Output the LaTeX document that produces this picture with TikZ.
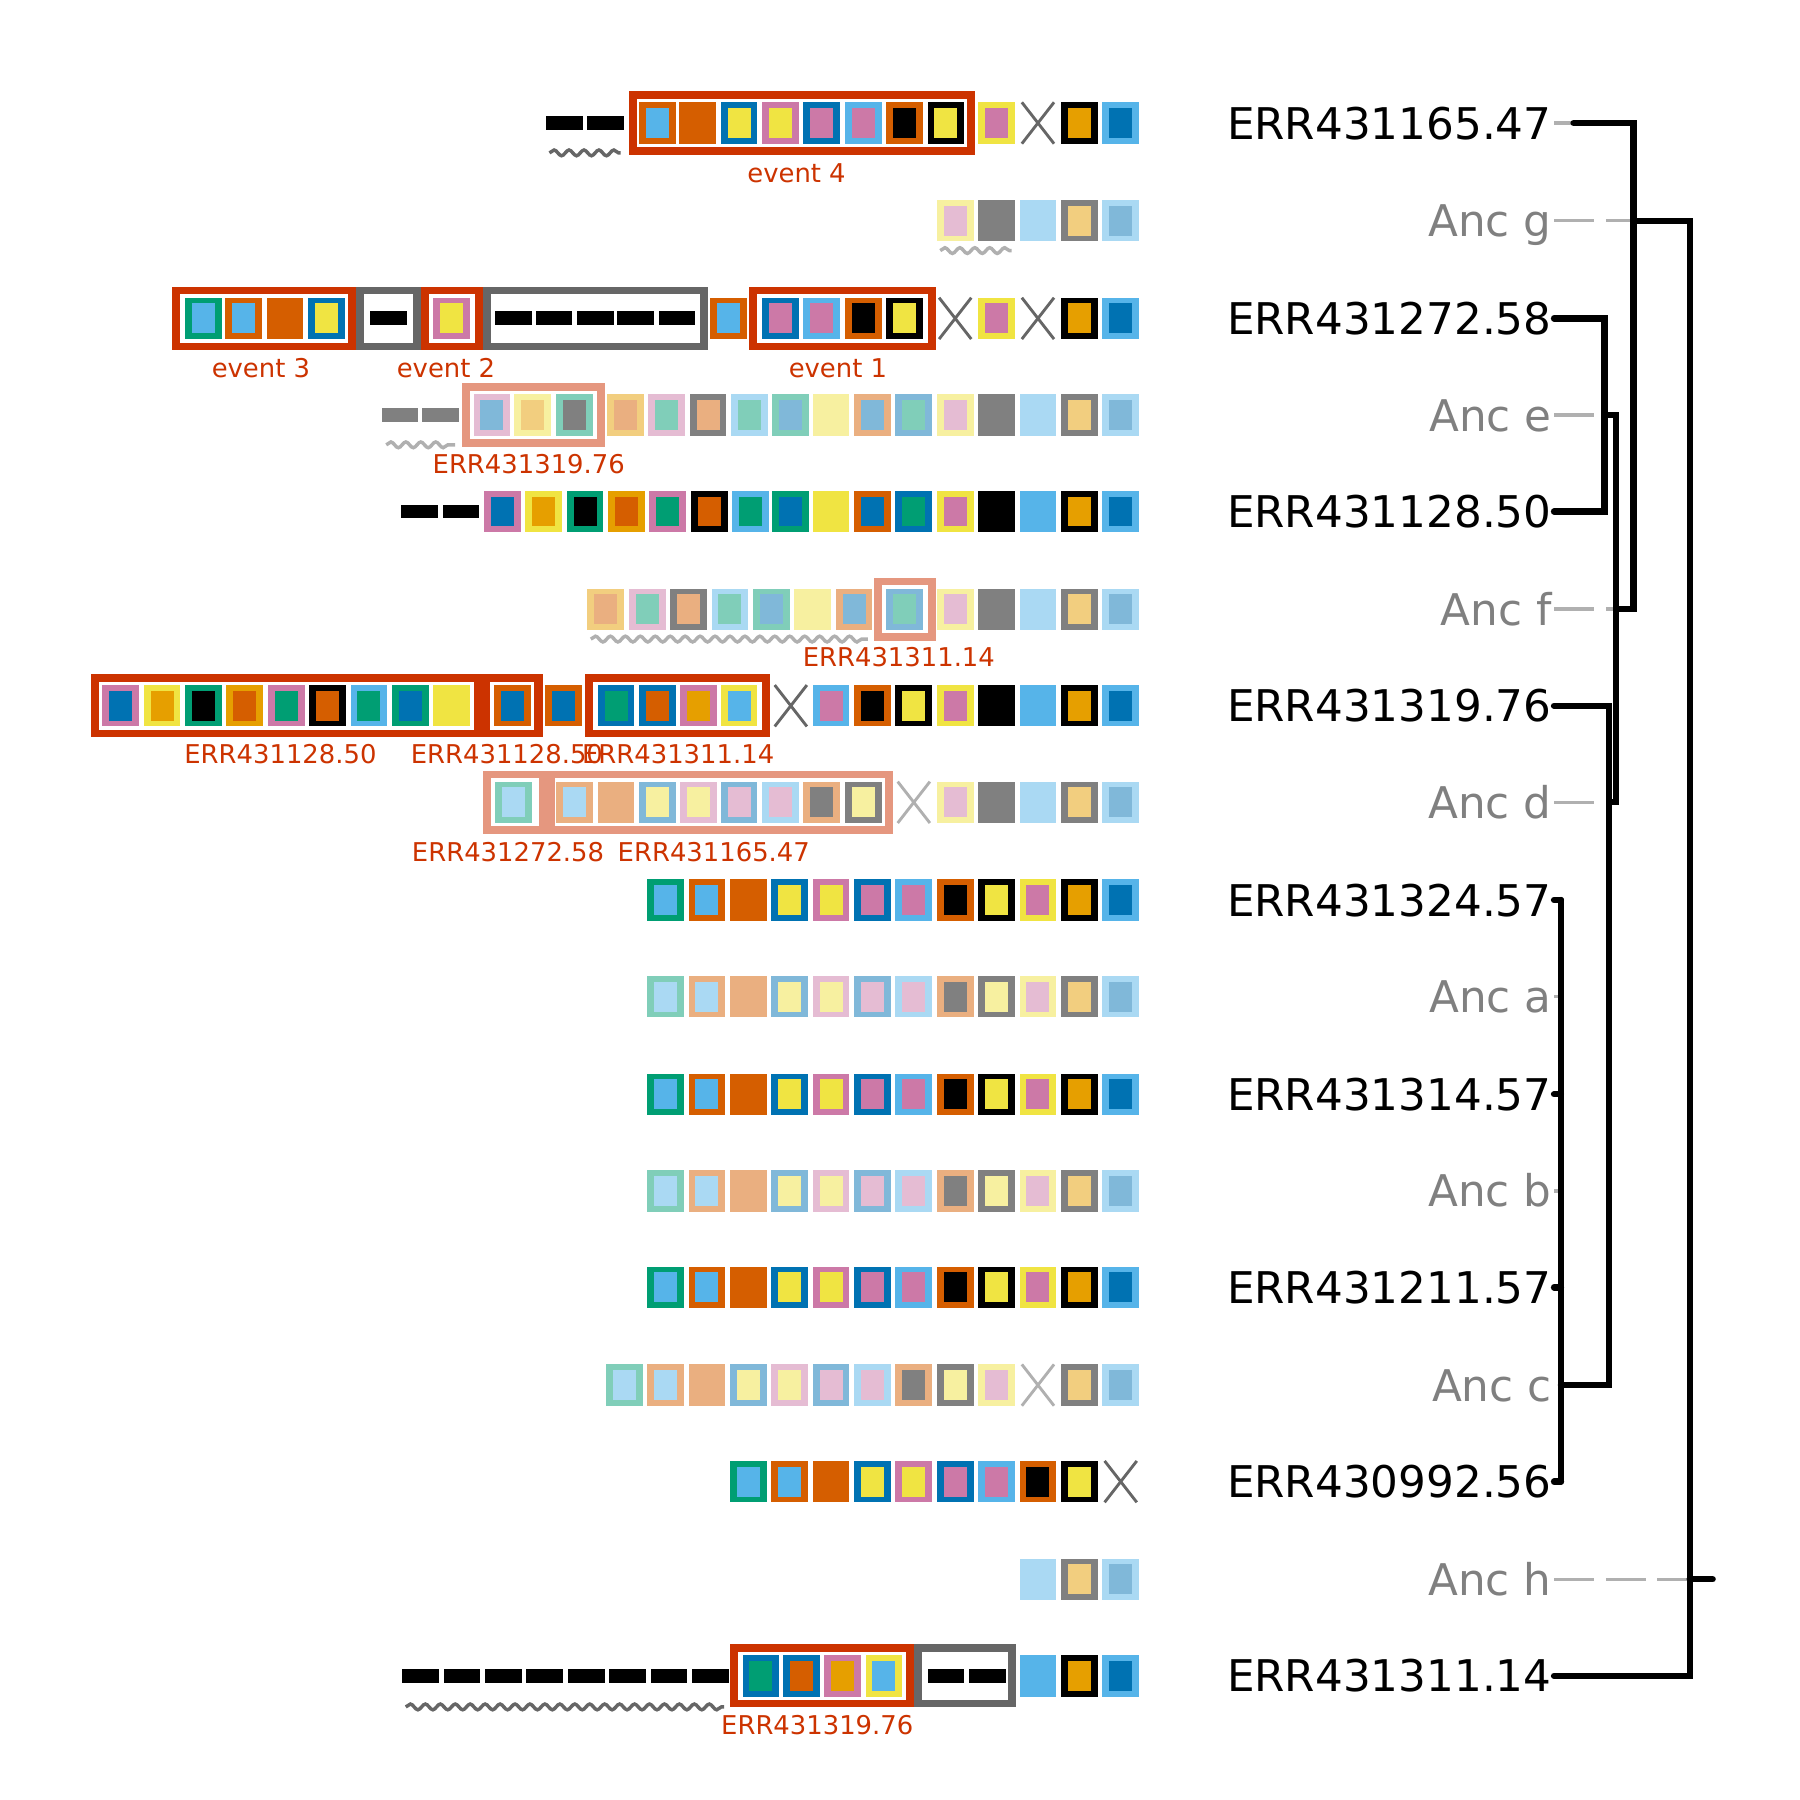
\documentclass[tikz,border=0pt]{standalone}
\usepackage{fontspec}
\setmainfont{DejaVu Sans}
\usetikzlibrary{decorations.pathmorphing}
\definecolor{O}{HTML}{E69F00}\definecolor{SB}{HTML}{56B4E9}\definecolor{G}{HTML}{009E73}
\definecolor{Y}{HTML}{F0E442}\definecolor{B}{HTML}{0072B2}\definecolor{V}{HTML}{D55E00}
\definecolor{P}{HTML}{CC79A7}\definecolor{K}{HTML}{000000}
\definecolor{lo}{HTML}{F2CE7F}\definecolor{lv}{HTML}{EAAF80}\definecolor{lsb}{HTML}{AAD9F3}
\definecolor{lg}{HTML}{80CEB9}\definecolor{ly}{HTML}{F7F0A0}\definecolor{lb}{HTML}{80B8D9}
\definecolor{lp}{HTML}{E5BCD3}\definecolor{gr}{HTML}{808080}
\definecolor{evred}{HTML}{CC3300}\definecolor{salmon}{HTML}{E5977F}\definecolor{bgray}{HTML}{666666}
\definecolor{leadgray}{HTML}{B0B0B0}\definecolor{ancgray}{HTML}{808080}
\newcommand\blk[4]{\fill[#3] ({#1-16},{#2-18}) rectangle ({#1+16},{#2+18});\fill[#4] ({#1-10},{#2-13}) rectangle ({#1+10},{#2+13});}
\newcommand\sblk[3]{\fill[#3] ({#1-16},{#2-18}) rectangle ({#1+16},{#2+18});}
\newcommand\dsh[3]{\fill[#3] ({#1-16},{#2-6}) rectangle ({#1+16},{#2+6});}
\newcommand\crs[3]{\draw[#3,line width=2.5] ({#1-14},{#2-18}) -- ({#1+14},{#2+18}) ({#1-14},{#2+18}) -- ({#1+14},{#2-18});}
\newcommand\evb[4]{\fill[#4] (#1,{#3-27.5}) rectangle (#2,{#3+27.5});\fill[white] ({#1+7},{#3-21}) rectangle ({#2-7},{#3+21});}
\newcommand\wav[4]{\draw[#4,line width=3,decorate,decoration={snake,amplitude=2.5,segment length=13}] (#1,#3) -- (#2,#3);}
\begin{document}
\begin{tikzpicture}[x=1pt,y=-1pt,
  evlab/.style={text=evred,font=\fontsize{22.5}{24}\selectfont,inner sep=0},
  leaf/.style={anchor=base east,font=\fontsize{38}{40}\selectfont,inner sep=0},
  anc/.style={leaf,text=ancgray},
  br/.style={line width=5.5,line cap=round},
  lead/.style={leadgray,line width=3},
  leadd/.style={lead,dash pattern=on 35 off 10}]
\useasboundingbox (0,0) rectangle (1566,1566);
% row 0
\dsh{491}{107}{K}\dsh{527}{107}{K}\wav{478}{540}{133}{bgray}
\evb{547}{848}{107}{evred}
\blk{572}{107}{V}{SB}\sblk{607}{107}{V}\blk{643}{107}{B}{Y}\blk{679}{107}{P}{Y}
\blk{715}{107}{B}{P}\blk{751}{107}{SB}{P}\blk{787}{107}{V}{K}\blk{823}{107}{K}{Y}
\blk{867}{107}{Y}{P}\crs{903}{107}{bgray}\blk{939}{107}{K}{O}\blk{975}{107}{SB}{B}
\node[evlab] (e4) at (693,151) {event 4};
% row 1
\blk{831}{192}{ly}{lp}\sblk{867}{192}{gr}\sblk{903}{192}{lsb}\blk{939}{192}{gr}{lo}\blk{975}{192}{lsb}{lb}
\wav{818}{880}{218}{leadgray}
% row 2
\evb{150}{310}{277}{evred}
\blk{177}{277}{G}{SB}\blk{212}{277}{V}{SB}\sblk{248}{277}{V}\blk{284}{277}{B}{Y}
\evb{310}{366}{277}{bgray}\dsh{338}{277}{K}
\evb{366}{420}{277}{evred}\blk{393}{277}{P}{Y}
\evb{420}{616}{277}{bgray}
\foreach \x in {447,482,518,553,589}{\dsh{\x}{277}{K}}
\blk{634}{277}{V}{SB}
\evb{652}{814}{277}{evred}
\blk{679}{277}{B}{P}\blk{715}{277}{SB}{P}\blk{751}{277}{V}{K}\blk{787}{277}{K}{Y}
\crs{831}{277}{bgray}\blk{867}{277}{Y}{P}\crs{903}{277}{bgray}\blk{939}{277}{K}{O}\blk{975}{277}{SB}{B}
\node[evlab] (e3) at (227,320) {event 3};
\node[evlab] (e2) at (388,320) {event 2};
\node[evlab] (e1) at (729,320) {event 1};
% row 3
\dsh{348}{361}{gr}\dsh{383}{361}{gr}\wav{336}{396}{387}{leadgray}
\evb{402}{526}{361}{salmon}
\blk{428}{361}{lp}{lb}\blk{463}{361}{ly}{lo}\blk{500}{361}{lg}{gr}
\blk{544}{361}{lo}{lv}\blk{580}{361}{lp}{lg}\blk{616}{361}{gr}{lv}\blk{652}{361}{lsb}{lg}
\blk{688}{361}{lg}{lb}\sblk{723}{361}{ly}\blk{759}{361}{lv}{lb}\blk{795}{361}{lb}{lg}
\blk{831}{361}{ly}{lp}\sblk{867}{361}{gr}\sblk{903}{361}{lsb}\blk{939}{361}{gr}{lo}\blk{975}{361}{lsb}{lb}
\node[evlab] (r3) at (460,404) {ERR431319.76};
% row 4
\dsh{365}{445}{K}\dsh{401}{445}{K}
\blk{437}{445}{P}{B}\blk{473}{445}{Y}{O}\blk{509}{445}{G}{K}\blk{545}{445}{O}{V}
\blk{581}{445}{P}{G}\blk{617}{445}{K}{V}\blk{653}{445}{SB}{G}\blk{688}{445}{G}{B}
\sblk{723}{445}{Y}\blk{759}{445}{V}{B}\blk{795}{445}{B}{G}\blk{831}{445}{Y}{P}
\sblk{867}{445}{K}\sblk{903}{445}{SB}\blk{939}{445}{K}{O}\blk{975}{445}{SB}{B}
% row 5
\blk{527}{530}{lo}{lv}\blk{563}{530}{lp}{lg}\blk{599}{530}{gr}{lv}\blk{635}{530}{lsb}{lg}
\blk{671}{530}{lg}{lb}\sblk{707}{530}{ly}\blk{743}{530}{lv}{lb}
\evb{760}{814}{530}{salmon}\blk{787}{530}{lb}{lg}
\blk{831}{530}{ly}{lp}\sblk{867}{530}{gr}\sblk{903}{530}{lsb}\blk{939}{530}{gr}{lo}\blk{975}{530}{lsb}{lb}
\wav{514}{755}{556}{leadgray}
\node[evlab] (r5) at (782,572) {ERR431311.14};
% row 6
\evb{79}{419}{614}{evred}
\blk{105}{614}{P}{B}\blk{141}{614}{Y}{O}\blk{177}{614}{G}{K}\blk{213}{614}{O}{V}
\blk{249}{614}{P}{G}\blk{285}{614}{K}{V}\blk{321}{614}{SB}{G}\blk{357}{614}{G}{B}\sblk{393}{614}{Y}
\evb{419}{472}{614}{evred}\blk{446}{614}{V}{B}
\blk{490}{614}{V}{B}
\evb{509}{670}{614}{evred}
\blk{536}{614}{B}{G}\blk{572}{614}{B}{V}\blk{608}{614}{P}{O}\blk{643}{614}{Y}{SB}
\crs{688}{614}{bgray}\blk{723}{614}{SB}{P}\blk{759}{614}{V}{K}\blk{795}{614}{K}{Y}
\blk{831}{614}{Y}{P}\sblk{867}{614}{K}\sblk{903}{614}{SB}\blk{939}{614}{K}{O}\blk{975}{614}{SB}{B}
\node[evlab] (r6a) at (244,656) {ERR431128.50};
\node[evlab] (r6b) at (441,656) {ERR431128.50};
\node[evlab] (r6c) at (590,656) {ERR431311.14};
% row 7
\evb{420}{476}{698}{salmon}\blk{447}{698}{lg}{lsb}
\evb{476}{777}{698}{salmon}
\blk{500}{698}{lv}{lsb}\sblk{536}{698}{lv}\blk{572}{698}{lb}{ly}\blk{608}{698}{lp}{ly}
\blk{643}{698}{lb}{lp}\blk{679}{698}{lsb}{lp}\blk{715}{698}{lv}{gr}\blk{751}{698}{gr}{ly}
\crs{795}{698}{leadgray}\blk{831}{698}{ly}{lp}\sblk{867}{698}{gr}\sblk{903}{698}{lsb}\blk{939}{698}{gr}{lo}\blk{975}{698}{lsb}{lb}
\node[evlab] (r7a) at (442,741) {ERR431272.58};
\node[evlab] (r7b) at (621,741) {ERR431165.47};
% rows 8,10,12
\foreach \y in {783,952,1120}{
\blk{579}{\y}{G}{SB}\blk{615}{\y}{V}{SB}\sblk{651}{\y}{V}\blk{687}{\y}{B}{Y}
\blk{723}{\y}{P}{Y}\blk{759}{\y}{B}{P}\blk{795}{\y}{SB}{P}\blk{831}{\y}{V}{K}
\blk{867}{\y}{K}{Y}\blk{903}{\y}{Y}{P}\blk{939}{\y}{K}{O}\blk{975}{\y}{SB}{B}}
% rows 9,11
\foreach \y in {867,1036}{
\blk{579}{\y}{lg}{lsb}\blk{615}{\y}{lv}{lsb}\sblk{651}{\y}{lv}\blk{687}{\y}{lb}{ly}
\blk{723}{\y}{lp}{ly}\blk{759}{\y}{lb}{lp}\blk{795}{\y}{lsb}{lp}\blk{831}{\y}{lv}{gr}
\blk{867}{\y}{gr}{ly}\blk{903}{\y}{ly}{lp}\blk{939}{\y}{gr}{lo}\blk{975}{\y}{lsb}{lb}}
% row 13
\blk{543}{1205}{lg}{lsb}\blk{579}{1205}{lv}{lsb}\sblk{615}{1205}{lv}\blk{651}{1205}{lb}{ly}
\blk{687}{1205}{lp}{ly}\blk{723}{1205}{lb}{lp}\blk{759}{1205}{lsb}{lp}\blk{795}{1205}{lv}{gr}
\blk{831}{1205}{gr}{ly}\blk{867}{1205}{ly}{lp}\crs{903}{1205}{leadgray}\blk{939}{1205}{gr}{lo}\blk{975}{1205}{lsb}{lb}
% row 14
\blk{651}{1289}{G}{SB}\blk{687}{1289}{V}{SB}\sblk{723}{1289}{V}\blk{759}{1289}{B}{Y}
\blk{795}{1289}{P}{Y}\blk{831}{1289}{B}{P}\blk{867}{1289}{SB}{P}\blk{903}{1289}{V}{K}
\blk{939}{1289}{K}{Y}\crs{975}{1289}{bgray}
% row 15
\sblk{903}{1374}{lsb}\blk{939}{1374}{gr}{lo}\blk{975}{1374}{lsb}{lb}
% row 16
\foreach \x in {366,402,438,474,510,546,582,618}{\dsh{\x}{1458}{K}}
\wav{353}{630}{1485}{bgray}
\evb{635}{795}{1458}{evred}
\blk{662}{1458}{B}{G}\blk{697}{1458}{B}{V}\blk{733}{1458}{P}{O}\blk{769}{1458}{Y}{SB}
\evb{795}{884}{1458}{bgray}\dsh{823}{1458}{K}\dsh{859}{1458}{K}
\sblk{903}{1458}{SB}\blk{939}{1458}{K}{O}\blk{975}{1458}{SB}{B}
\node[evlab] (r16) at (711,1501) {ERR431319.76};
% tree labels
\node[leaf] (t0) at (1350,121) {ERR431165.47};
\node[anc] (t1) at (1350,206) {Anc g};
\node[leaf] (t2) at (1350,291) {ERR431272.58};
\node[anc] (t3) at (1350,375) {Anc e};
\node[leaf] (t4) at (1350,459) {ERR431128.50};
\node[anc] (t5) at (1350,544) {Anc f};
\node[leaf] (t6) at (1350,628) {ERR431319.76};
\node[anc] (t7) at (1350,712) {Anc d};
\node[leaf] (t8) at (1350,797) {ERR431324.57};
\node[anc] (t9) at (1350,881) {Anc a};
\node[leaf] (t10) at (1350,966) {ERR431314.57};
\node[anc] (t11) at (1350,1050) {Anc b};
\node[leaf] (t12) at (1350,1134) {ERR431211.57};
\node[anc] (t13) at (1350,1219) {Anc c};
\node[leaf] (t14) at (1350,1303) {ERR430992.56};
\node[anc] (t15) at (1350,1388) {Anc h};
\node[leaf] (t16) at (1350,1472) {ERR431311.14};
% junction coordinates
\coordinate (g) at (1421,192); \coordinate (f) at (1406,530); \coordinate (e) at (1396,361);
\coordinate (d) at (1400,698); \coordinate (c) at (1358,1205); \coordinate (h) at (1470,1374);
% leader lines
\draw[lead] (1352,107) -- (1369,107);
\foreach \y/\xe in {192/1421,361/1396,530/1406,698/1400,1374/1470}{\draw[leadd] (1352,\y) -- (\xe,\y);}
\foreach \y in {867,1036}{\draw[lead] (1352,\y) -- (1358,\y);}
% branches
\draw[br] (1369,107) -- (1421,107) -- (1421,530) -- (f);
\draw[br] (g) -- (1470,192) -- (1470,1458) -- (1352,1458);
\draw[br] (1352,277) -- (1396,277) -- (1396,445) -- (1352,445);
\draw[br] (e) -- (1406,361) -- (1406,698) -- (d);
\draw[br] (1352,614) -- (1400,614) -- (1400,1205) -- (c);
\draw[br] (1358,783) -- (1358,1289);
\foreach \y in {783,952,1120,1289}{\draw[br] (1352,\y) -- (1358,\y);}
\draw[br] (h) -- (1490,1374);
\end{tikzpicture}
\end{document}
